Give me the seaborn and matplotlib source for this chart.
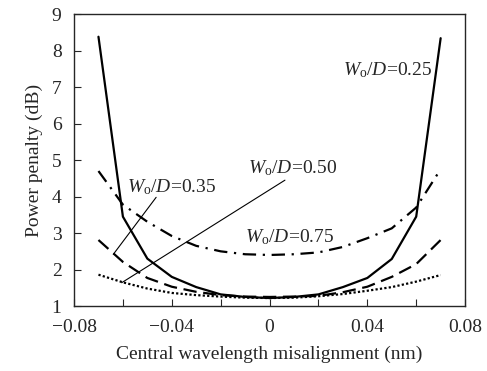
import numpy as np
import pandas as pd
import matplotlib
matplotlib.use("Agg")
import matplotlib.pyplot as plt
import seaborn as sns

# --- datos ---
x_nm = [-0.07, -0.06, -0.05, -0.04, -0.03, -0.02, -0.01, 0.0,
        0.01, 0.02, 0.03, 0.04, 0.05, 0.06, 0.07]
pp_025 = [8.38, 3.45, 2.30, 1.80, 1.52, 1.32, 1.25, 1.22, 1.25, 1.32, 1.52, 1.77, 2.29, 3.45, 8.34]
pp_035 = [2.81, 2.21, 1.77, 1.53, 1.39, 1.30, 1.26, 1.25, 1.26, 1.28, 1.38, 1.53, 1.80, 2.15, 2.81]
pp_050 = [4.70, 3.78, 3.31, 2.92, 2.65, 2.50, 2.42, 2.40, 2.42, 2.47, 2.62, 2.86, 3.13, 3.70, 4.75]
pp_075 = [1.86, 1.65, 1.48, 1.36, 1.30, 1.26, 1.23, 1.22, 1.23, 1.27, 1.33, 1.42, 1.52, 1.67, 1.85]

series = {'0.25': pp_025, '0.35': pp_035, '0.50': pp_050, '0.75': pp_075}
styles = {'0.25': '-',
          '0.35': (0, (6, 3)),
          '0.50': (0, (6, 3, 1, 3)),
          '0.75': (0, (1, 1))}

sns.set_style("ticks")
plt.rcParams['font.family'] = ['Liberation Serif', 'DejaVu Serif']
plt.rcParams['mathtext.fontset'] = 'custom'
plt.rcParams['mathtext.rm'] = 'Liberation Serif'
plt.rcParams['mathtext.it'] = 'Liberation Serif:italic'

fig = plt.figure(figsize=(4.87, 3.71), dpi=100)
ax = fig.add_axes([0.152, 0.175, 0.803, 0.787])

for k, vals in series.items():
    df = pd.DataFrame({'x': x_nm, 'y': vals})
    sns.lineplot(data=df, x='x', y='y', ax=ax, color='black',
                 linestyle=styles[k], linewidth=1.6)

ax.set_xlim(-0.08, 0.08)
ax.set_ylim(1, 9)
ax.set_xticks(np.arange(-0.08, 0.081, 0.02))
ax.set_xticklabels(['\u22120.08', '', '\u22120.04', '', '0', '', '0.04', '', '0.08'])
ax.set_yticks(range(1, 10))
ax.tick_params(direction='in', length=5, width=0.8, labelsize=14, pad=9)
for s in ax.spines.values():
    s.set_linewidth(1.0)
ax.set_xlabel('Central wavelength misalignment (nm)', fontsize=14, labelpad=7)
ax.set_ylabel('Power penalty (dB)', fontsize=14, labelpad=6)

fs = 14
ax.text(0.0664, 7.47, r'$W_{\rm o}/D$=0.25', ha='right', va='center', fontsize=fs)
ax.text(-0.0088, 4.78, r'$W_{\rm o}/D$=0.50', ha='left', va='center', fontsize=fs)
ax.text(-0.0584, 4.27, r'$W_{\rm o}/D$=0.35', ha='left', va='center', fontsize=fs)
ax.text(-0.0100, 2.90, r'$W_{\rm o}/D$=0.75', ha='left', va='center', fontsize=fs)

# lineas guia de las etiquetas
ax.plot([-0.0464, -0.0639], [3.98, 2.42], color='black', lw=0.8)
ax.plot([0.0063, -0.0605], [4.45, 1.64], color='black', lw=0.8)

fig.savefig('out.png', dpi=100)
